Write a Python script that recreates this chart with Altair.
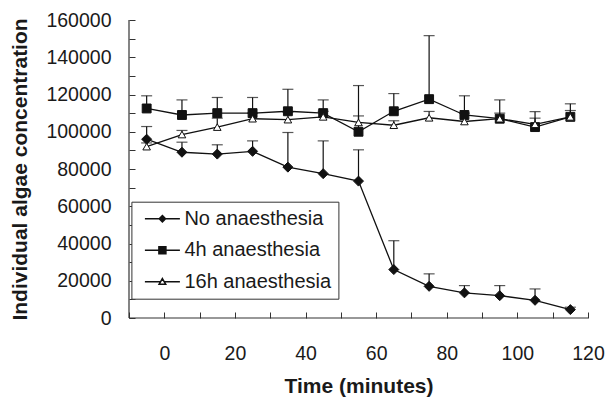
import altair as alt
import pandas as pd

# ---------------- data ----------------
time_min = [-5, 5, 15, 25, 35, 45, 55, 65, 75, 85, 95, 105, 115]
series_names = ["No anaesthesia", "4h anaesthesia", "16h anaesthesia"]

no_mean = [96000, 89000, 88000, 89500, 81000, 77500, 73500, 26000, 17000, 13500, 12000, 9500, 4500]
no_upper = [102800, 94400, 93000, 95100, 99600, 95100, 90300, 41500, 23700, 17400, 17400, 15600, 5800]

h4_mean = [112500, 109000, 110000, 110000, 111000, 110000, 100000, 111000, 117500, 109000, 107000, 102500, 108000]
h4_upper = [119300, 117100, 118400, 118400, 122800, 117100, 124800, 120500, 151600, 119300, 117100, 110800, 115000]

h16_mean = [92000, 98500, 102500, 107000, 106500, 108000, 105000, 103500, 107500, 105500, 107000, 104000, 108000]
h16_upper = [94000, 100700, 107300, 110000, 110500, 111000, 108500, 105900, 110900, 110000, 110000, 107300, 111400]

x_ticks = list(range(-10, 121, 10))
y_ticks = list(range(0, 160001, 10000))

rows = []
for name, means, uppers in zip(series_names, [no_mean, h4_mean, h16_mean], [no_upper, h4_upper, h16_upper]):
    for t, m, u in zip(time_min, means, uppers):
        rows.append({"time": t, "series": name, "mean": m, "upper": u})
df = pd.DataFrame(rows)

FONT = "Liberation Sans"
TXT = "#1a1a1a"
AX = "#333333"
INK = "#111111"

x_scale = alt.Scale(domain=[-10, 120], nice=False, zero=False)
y_scale = alt.Scale(domain=[0, 160000], nice=False, zero=False)

x_axis = alt.Axis(
    title="Time (minutes)", values=x_ticks, format="d",
    labelExpr="datum.value >= 0 && datum.value % 20 == 0 ? datum.label : ''",
    domain=False, grid=False, offset=-6, tickSize=6, tickColor=AX, tickWidth=1,
    labelPadding=26, labelFlush=False, labelOverlap=False,
    labelFont=FONT, labelFontSize=19.5, labelColor=TXT,
    titleFont=FONT, titleFontSize=21, titleFontWeight="bold", titleColor=TXT, titlePadding=13,
)
y_axis = alt.Axis(
    title="Individual algae concentration", values=y_ticks, format="d",
    labelExpr="datum.value % 20000 == 0 ? datum.label : ''",
    domain=False, grid=False, offset=-6, tickSize=6, tickColor=AX, tickWidth=1,
    labelPadding=18, labelFlush=False, labelOverlap=False,
    labelFont=FONT, labelFontSize=19.5, labelColor=TXT,
    titleFont=FONT, titleFontSize=21, titleFontWeight="bold", titleColor=TXT, titlePadding=15,
)


def xenc(field):
    return alt.X(f"{field}:Q", scale=x_scale, axis=x_axis)


def yenc(field):
    return alt.Y(f"{field}:Q", scale=y_scale, axis=y_axis)


base = alt.Chart(df)

x_domain_line = alt.Chart(pd.DataFrame({"v": [-10]})).mark_rule(color=AX, strokeWidth=1.2).encode(x=xenc("v"))
y_domain_line = alt.Chart(pd.DataFrame({"v": [0]})).mark_rule(color=AX, strokeWidth=1.2).encode(y=yenc("v"))

lines = base.mark_line(color=INK, strokeWidth=1.3).encode(
    x=xenc("time"), y=yenc("mean"), detail="series:N"
)
err = base.mark_rule(color=INK, strokeWidth=1.2).encode(
    x=xenc("time"), y=yenc("mean"), y2="upper:Q"
)
caps = base.mark_tick(color=INK, orient="horizontal", size=11, thickness=1.2).encode(
    x=xenc("time"), y=yenc("upper")
)
points = base.mark_point(filled=True, opacity=1, stroke=INK, strokeWidth=1).encode(
    x=xenc("time"), y=yenc("mean"),
    shape=alt.Shape("series:N", scale=alt.Scale(domain=series_names, range=["diamond", "square", "triangle-up"]), legend=None),
    fill=alt.Fill("series:N", scale=alt.Scale(domain=series_names, range=[INK, INK, "white"]), legend=None),
    size=alt.Size("series:N", scale=alt.Scale(domain=series_names, range=[100, 58, 90]), legend=None),
)

legend_paths = [
    "M-5,0H5M0,-0.9L0.9,0L0,0.9L-0.9,0Z",
    "M-5,0H5M-1,-1H1V1H-1Z",
    "M-5,0H-0.5M0.5,0H5M0,-0.9L0.95,0.75H-0.95Z",
]
leg = alt.Legend(
    title=None, orient="none", legendX=2.4, legendY=181.7, padding=7,
    strokeColor=AX, fillColor="white",
    labelFont=FONT, labelFontSize=20, labelColor=TXT,
    symbolSize=49, symbolOpacity=1,
    symbolOffset=14, labelOffset=12, rowPadding=11.5,
)
legend_layer = base.transform_filter("datum.mean < 0").mark_point(
    filled=True, opacity=1, size=49, stroke=INK, strokeWidth=1.1
).encode(
    x=xenc("time"), y=yenc("mean"),
    shape=alt.Shape("series:N", scale=alt.Scale(domain=series_names, range=legend_paths), legend=leg),
    fill=alt.Fill("series:N", scale=alt.Scale(domain=series_names, range=[INK, INK, "white"]), legend=leg),
)

chart = alt.layer(
    x_domain_line, y_domain_line, lines, err, caps, points, legend_layer
).resolve_scale(
    shape="independent", fill="independent", size="independent"
).properties(
    width=459, height=298,
    autosize=alt.AutoSizeParams(type="none"),
    padding={"left": 121, "top": 12, "right": 17, "bottom": 80},
).configure_view(stroke=None)

chart.save("out.html", embed_options={"renderer": "svg", "actions": False})
